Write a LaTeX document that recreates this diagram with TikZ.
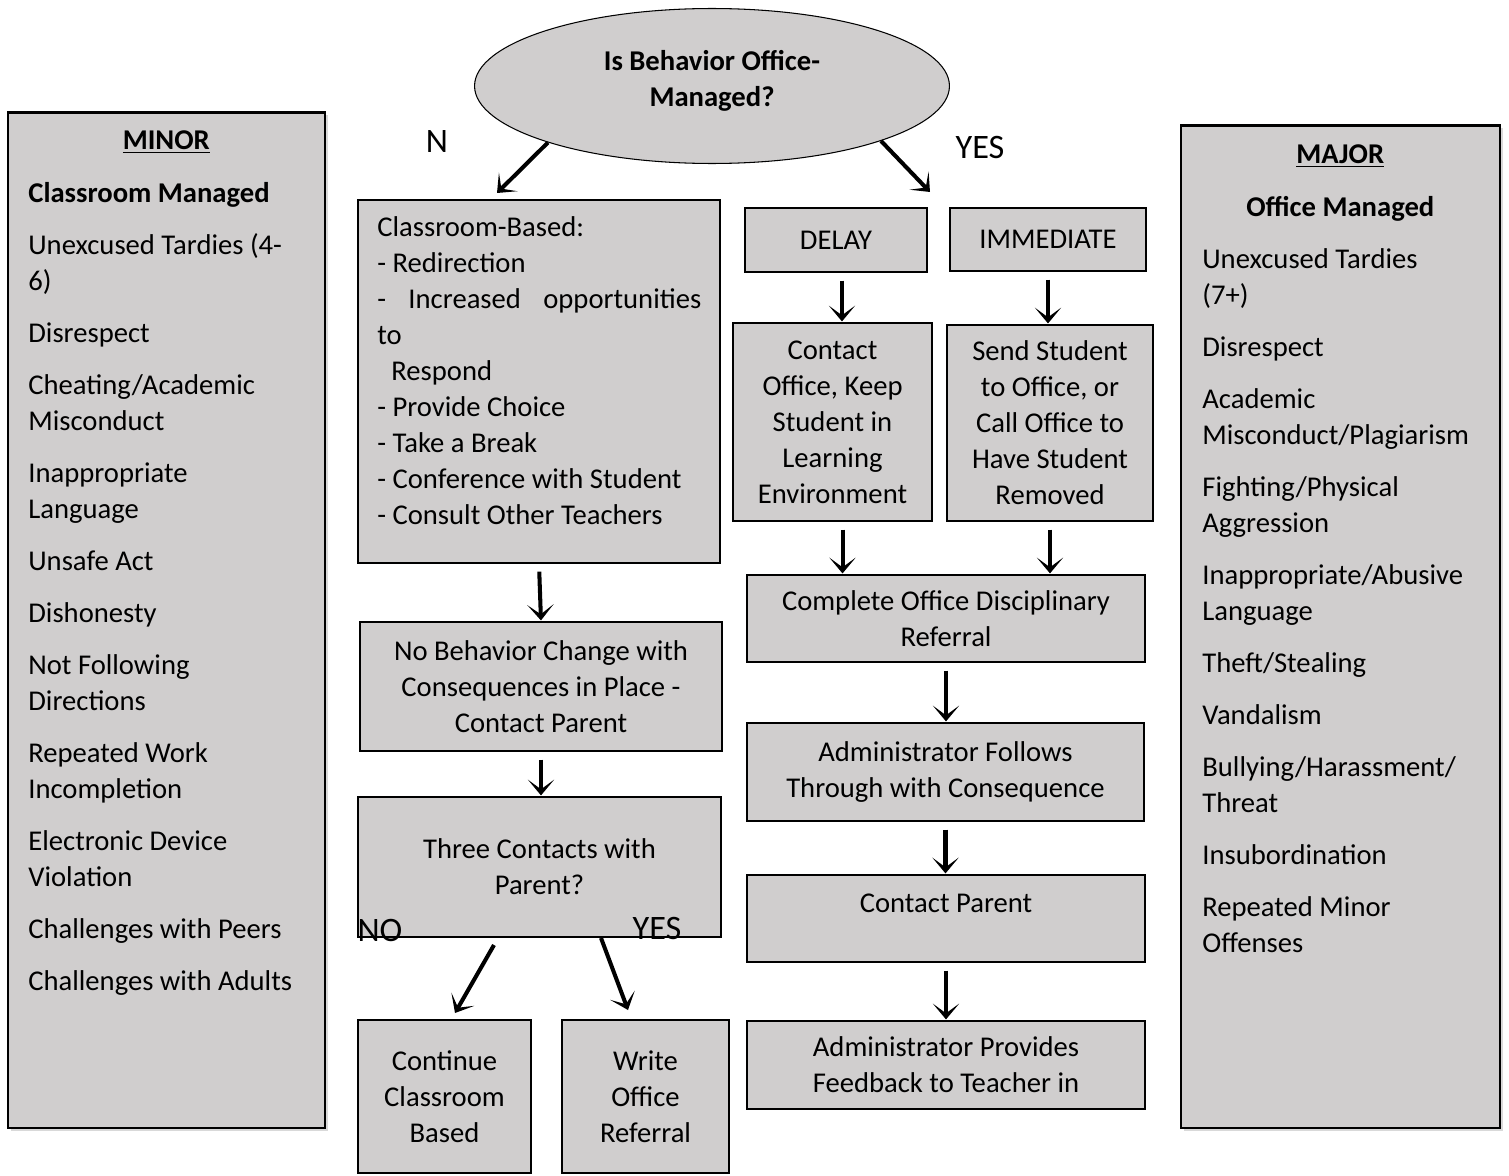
\documentclass[tikz,border=0pt]{standalone}
\usepackage{fontspec}
\setmainfont{Carlito}
\usetikzlibrary{arrows.meta,positioning,shapes.geometric,shadows}
\tikzset{>/.tip={Stealth[length=9pt,width=15pt,inset=5.5pt]}}
\definecolor{boxgray}{RGB}{208,206,206}
\newcommand{\bodysize}{\fontsize{16.3}{20.5}\selectfont}

\begin{document}
\begin{tikzpicture}[x=0.02cm,y=-0.02cm,font=\bodysize,
    execute at begin node={\spaceskip=0pt\xspaceskip=0pt},
    box/.style={draw,fill=boxgray,line width=0.8pt,inner sep=0pt,align=center},
    side/.style={draw,fill=boxgray,line width=1.6pt,inner sep=0pt,
      drop shadow={opacity=0.3,shadow xshift=1.5pt,shadow yshift=-1.5pt}},
    list/.style={text width=5.52cm,align=left,inner sep=0pt,anchor=base west},
    arr/.style={->,line width=2.3pt,shorten <=4.5pt,shorten >=0.5pt},
    tag/.style={font=\fontsize{19.5}{20}\selectfont,inner sep=0pt}]
  \useasboundingbox (0,0) rectangle (1509,1176);

  % side panels
  \node[side,minimum width=6.34cm,minimum height=20.32cm] (minor) at (166.5,620) {};
  \node[side,minimum width=6.38cm,minimum height=20.06cm] (major) at (1340.5,626.5) {};
  \node[list] (minorTxt) at (28,150) {\makebox[\hsize]{\bfseries\underline{MINOR}}\\[9.1pt]
    \textbf{Classroom Managed}\\[9.1pt]
    Unexcused Tardies (4-\\6)\\[9.1pt]
    Disrespect\\[9.1pt]
    Cheating/Academic\\Misconduct\\[9.1pt]
    Inappropriate\\Language\\[9.1pt]
    Unsafe Act\\[9.1pt]
    Dishonesty\\[9.1pt]
    Not Following\\Directions\\[9.1pt]
    Repeated Work\\Incompletion\\[9.1pt]
    Electronic Device\\Violation\\[9.1pt]
    Challenges with Peers\\[9.1pt]
    Challenges with Adults};
  \node[list] (majorTxt) at (1202,164) {\makebox[\hsize]{\bfseries\underline{MAJOR}}\\[9.1pt]
    \makebox[\hsize]{\bfseries Office Managed}\\[9.1pt]
    Unexcused Tardies\\(7+)\\[9.1pt]
    Disrespect\\[9.1pt]
    Academic\\Misconduct/Plagiarism\\[9.1pt]
    Fighting/Physical\\Aggression\\[9.1pt]
    Inappropriate/Abusive\\Language\\[9.1pt]
    Theft/Stealing\\[9.1pt]
    Vandalism\\[9.1pt]
    Bullying/Harassment/\\Threat\\[9.1pt]
    Insubordination\\[9.1pt]
    Repeated Minor\\Offenses};

  % question
  \node[draw,ellipse,fill=boxgray,line width=0.6pt,inner sep=0pt,
    minimum width=9.5cm,minimum height=3.1cm] (question) at (712,86) {};
  \node[align=center,inner sep=0pt,font=\bodysize\bfseries] (qTxt)
    at ([yshift=3pt]question.center) {Is Behavior Office-\\Managed?};
  \node[tag] (nLbl) at (437,142) {N};
  \node[tag] (yLbl) at (980,148) {YES};

  % classroom branch
  \node[box,minimum width=7.24cm,minimum height=7.26cm] (cls) at (539,381.5) {};
  \node[list,text width=6.48cm] (clsTxt) at (377,236) {Classroom-Based:\\- Redirection\\
    \makebox[\hsize][s]{- Increased opportunities}\\to\\
    \hspace*{0.28cm}Respond\\- Provide Choice\\- Take a Break\\
    - Conference with Student\\- Consult Other Teachers};
  \node[box,minimum width=7.24cm,minimum height=2.58cm] (noChange) at (541,686.5)
    {No Behavior Change with\\Consequences in Place -\\Contact Parent};
  \node[box,minimum width=7.26cm,minimum height=2.8cm] (three) at (539.5,867)
    {Three Contacts with\\Parent?};
  \node[tag] (noLbl) at (380,930) {NO};
  \node[tag] (yesLbl) at (657,928) {YES};
  \node[box,minimum width=3.46cm,minimum height=3.06cm] (cont) at (444.5,1096.5)
    {Continue\\Classroom\\Based};
  \node[box,minimum width=3.34cm,minimum height=3.06cm] (write) at (645.5,1096.5)
    {Write\\Office\\Referral};

  % office branch
  \node[box,minimum width=3.64cm,minimum height=1.28cm] (delay) at (836,240) {DELAY};
  \node[box,minimum width=3.92cm,minimum height=1.26cm] (immed) at (1048,239.5) {IMMEDIATE};
  \node[box,minimum width=3.98cm,minimum height=3.96cm] (keep) at (832.5,422)
    {Contact\\Office, Keep\\Student in\\Learning\\Environment};
  \node[box,minimum width=4.12cm,minimum height=3.92cm] (send) at (1050,423)
    {Send Student\\to Office, or\\Call Office to\\Have Student\\Removed};
  \node[box,minimum width=7.96cm,minimum height=1.74cm] (odr) at (946,618.5)
    {Complete Office Disciplinary\\Referral};
  \node[box,minimum width=7.94cm,minimum height=1.96cm] (follow) at (945.5,772)
    {Administrator Follows\\Through with Consequence};
  \node[box,minimum width=7.96cm,minimum height=1.74cm] (cparent) at (946,918.5) {};
  \node[inner sep=0pt,below=10.8pt of cparent.north] (cparentTxt) {Contact Parent};
  \node[box,minimum width=7.96cm,minimum height=1.76cm] (feedback) at (946,1065)
    {Administrator Provides\\Feedback to Teacher in};

  % connectors
  \coordinate (nTip) at (497,193);
  \coordinate (yTip) at (930,192);
  \coordinate (noTail) at (494,945);
  \coordinate (noTip) at (455,1013);
  \coordinate (yesTail) at (601,938);
  \coordinate (yesTip) at (628,1010);
  \draw[arr,shorten <=0pt,shorten >=0pt] (question.199) -- (nTip);
  \draw[arr,shorten <=0pt,shorten >=0pt] (question.-18) -- (yTip);
  \draw[arr] (cls.south) -- (noChange.north);
  \draw[arr] (noChange.south) -- (noChange.south |- three.north);
  \draw[arr,shorten <=0pt,shorten >=0pt] (noTail) -- (noTip);
  \draw[arr,shorten <=0pt,shorten >=0pt] (yesTail) -- (yesTip);
  \draw[arr] ([xshift=3.4pt]delay.south) -- ([xshift=3.4pt]delay.south |- keep.north);
  \draw[arr] (immed.south) -- (immed.south |- send.north);
  \draw[arr] ([xshift=5.7pt]keep.south) -- ([xshift=5.7pt]keep.south |- odr.north);
  \draw[arr] (send.south) -- (send.south |- odr.north);
  \draw[arr] (odr.south) -- (odr.south |- follow.north);
  \draw[arr] (follow.south) -- (follow.south |- cparent.north);
  \draw[arr] (cparent.south) -- (cparent.south |- feedback.north);
\end{tikzpicture}
\end{document}
